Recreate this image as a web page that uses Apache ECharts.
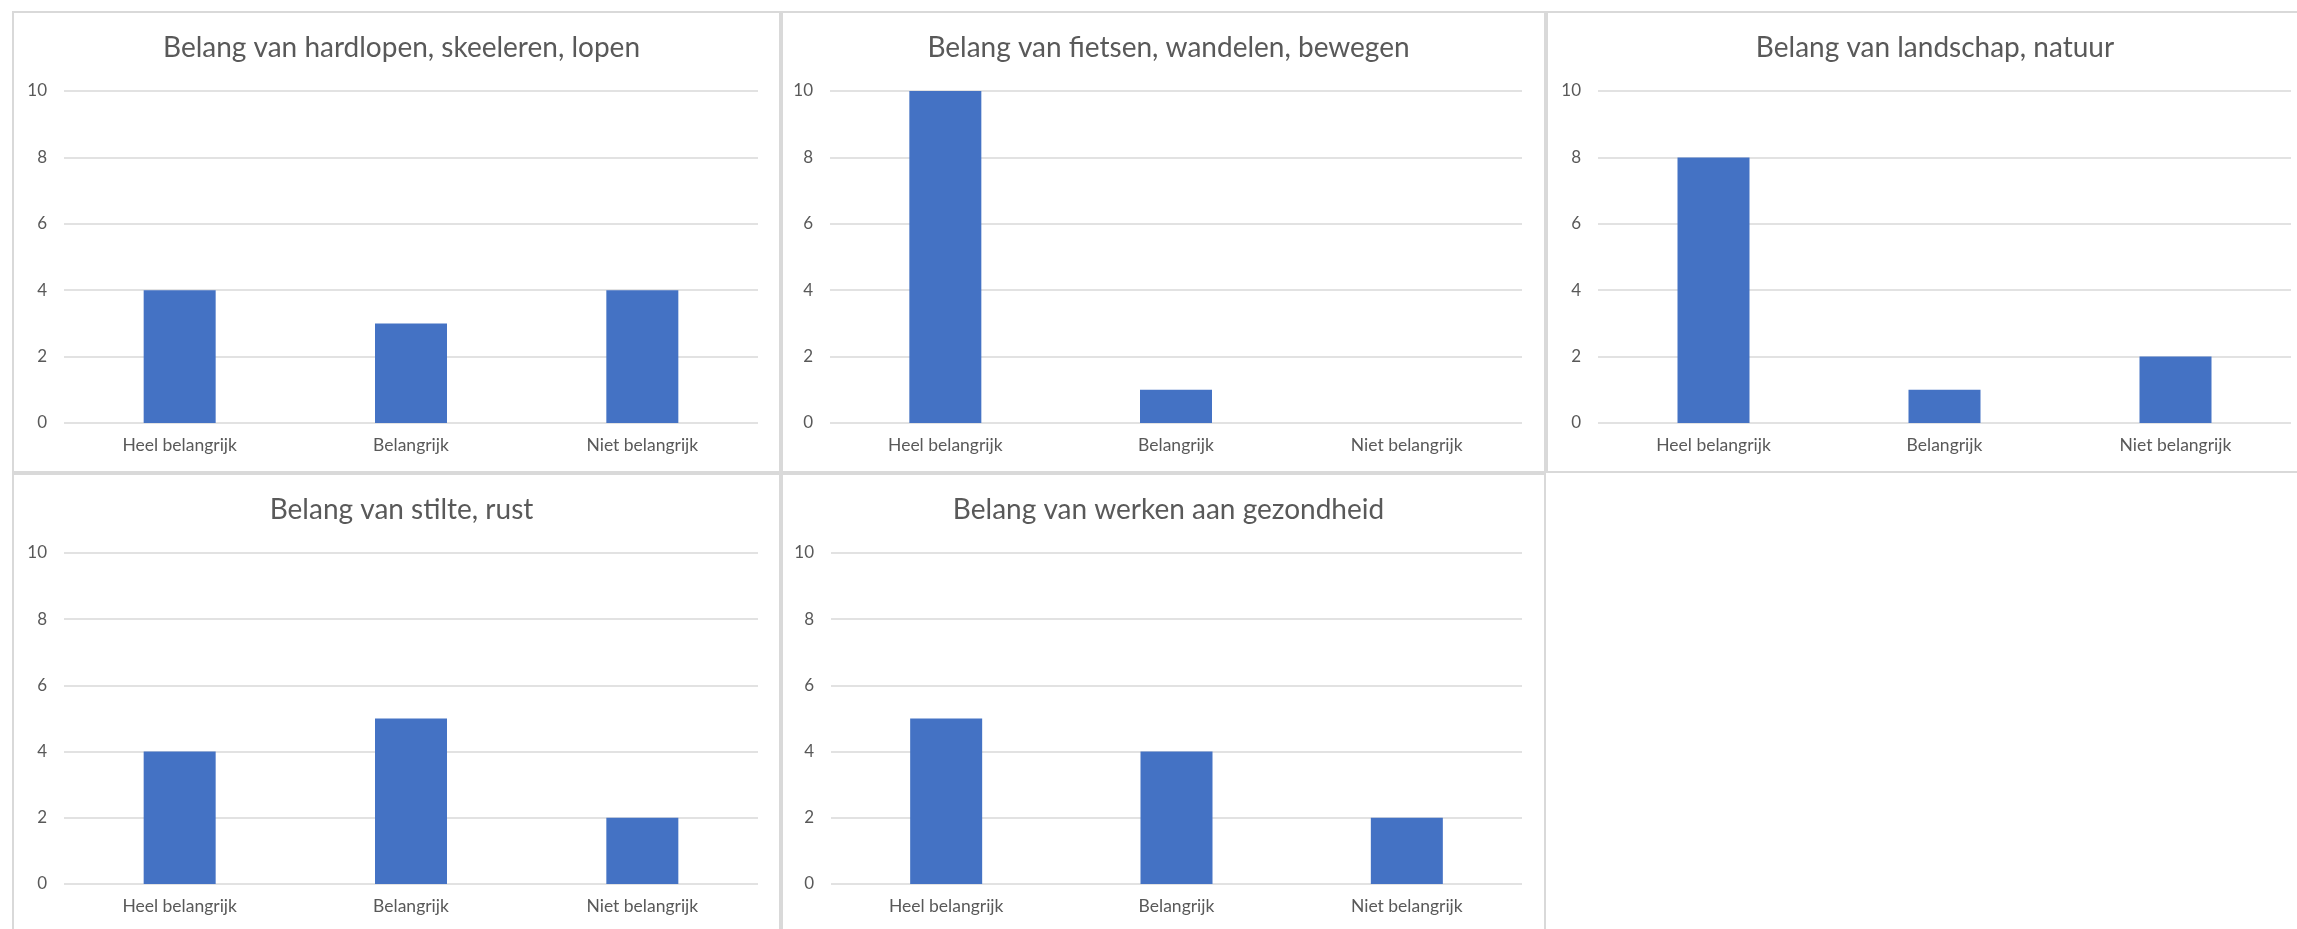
<!DOCTYPE html>
<html>
<head>
<meta charset="utf-8">
<script src="https://cdn.jsdelivr.net/npm/echarts@6/dist/echarts.min.js"></script>
<style>
html,body{margin:0;padding:0;background:#fff;}
#c{width:2297px;height:929px;}
</style>
</head>
<body>
<div id="c"></div>
<script>
const categories = ['Heel belangrijk', 'Belangrijk', 'Niet belangrijk'];
const chartTitles = [
  'Belang van hardlopen, skeeleren, lopen',
  'Belang van fietsen, wandelen, bewegen',
  'Belang van landschap, natuur',
  'Belang van stilte, rust',
  'Belang van werken aan gezondheid'
];
const hardlopen = [4, 3, 4];
const fietsen = [10, 1, 0];
const landschap = [8, 1, 2];
const stilte = [4, 5, 2];
const gezondheid = [5, 4, 2];
const yTicks = { min: 0, max: 10, interval: 2 };

const seriesValues = [hardlopen, fietsen, landschap, stilte, gezondheid];

const FONT = 'Lato, "Open Sans", sans-serif';
const TXT = '#595959';
const GRIDC = '#D9D9D9';

// panel frames (layout)
const panels = [
  { x: 13, y: 12, w: 767, h: 460 },
  { x: 782, y: 12, w: 763, h: 460 },
  { x: 1547, y: 12, w: 766, h: 460 },
  { x: 13, y: 474, w: 767, h: 460 },
  { x: 782, y: 474, w: 763, h: 460 }
];
// plot areas (layout)
const plots = [
  { left: 64, top: 91, width: 694, height: 332 },
  { left: 830, top: 91, width: 692, height: 332 },
  { left: 1598, top: 91, width: 693, height: 332 },
  { left: 64, top: 553, width: 694, height: 331 },
  { left: 831, top: 553, width: 691, height: 331 }
];

const chart = echarts.init(document.getElementById('c'), null, { renderer: 'canvas' });

const option = {
  animation: false,
  backgroundColor: '#fff',
  title: chartTitles.map((t, i) => ({
    text: t,
    left: panels[i].x + panels[i].w / 2,
    top: panels[i].y + 17,
    textAlign: 'center',
    textStyle: { fontFamily: FONT, fontSize: 28, fontWeight: 'normal', color: TXT }
  })),
  grid: plots.map(p => ({ left: p.left, top: p.top, width: p.width, height: p.height, containLabel: false })),
  xAxis: plots.map((p, i) => ({
    type: 'category',
    gridIndex: i,
    data: categories,
    axisLine: { show: false },
    axisTick: { show: false },
    axisLabel: { fontFamily: FONT, fontSize: 17.5, color: TXT, margin: 13 }
  })),
  yAxis: plots.map((p, i) => ({
    type: 'value',
    gridIndex: i,
    min: yTicks.min,
    max: yTicks.max,
    interval: yTicks.interval,
    axisLine: { show: false },
    axisTick: { show: false },
    axisLabel: { fontFamily: FONT, fontSize: 17, color: TXT, margin: 17 },
    splitLine: { lineStyle: { color: GRIDC, width: 1.5 } }
  })),
  series: seriesValues.map((vals, i) => ({
    type: 'bar',
    xAxisIndex: i,
    yAxisIndex: i,
    data: vals,
    barWidth: 72,
    itemStyle: { color: '#4472C4' }
  })),
  graphic: panels.map(p => ({
    type: 'rect',
    silent: true,
    z: 100,
    shape: { x: p.x, y: p.y, width: p.w, height: p.h },
    style: { fill: 'none', stroke: GRIDC, lineWidth: 2 }
  }))
};
chart.setOption(option);
</script>
</body>
</html>
